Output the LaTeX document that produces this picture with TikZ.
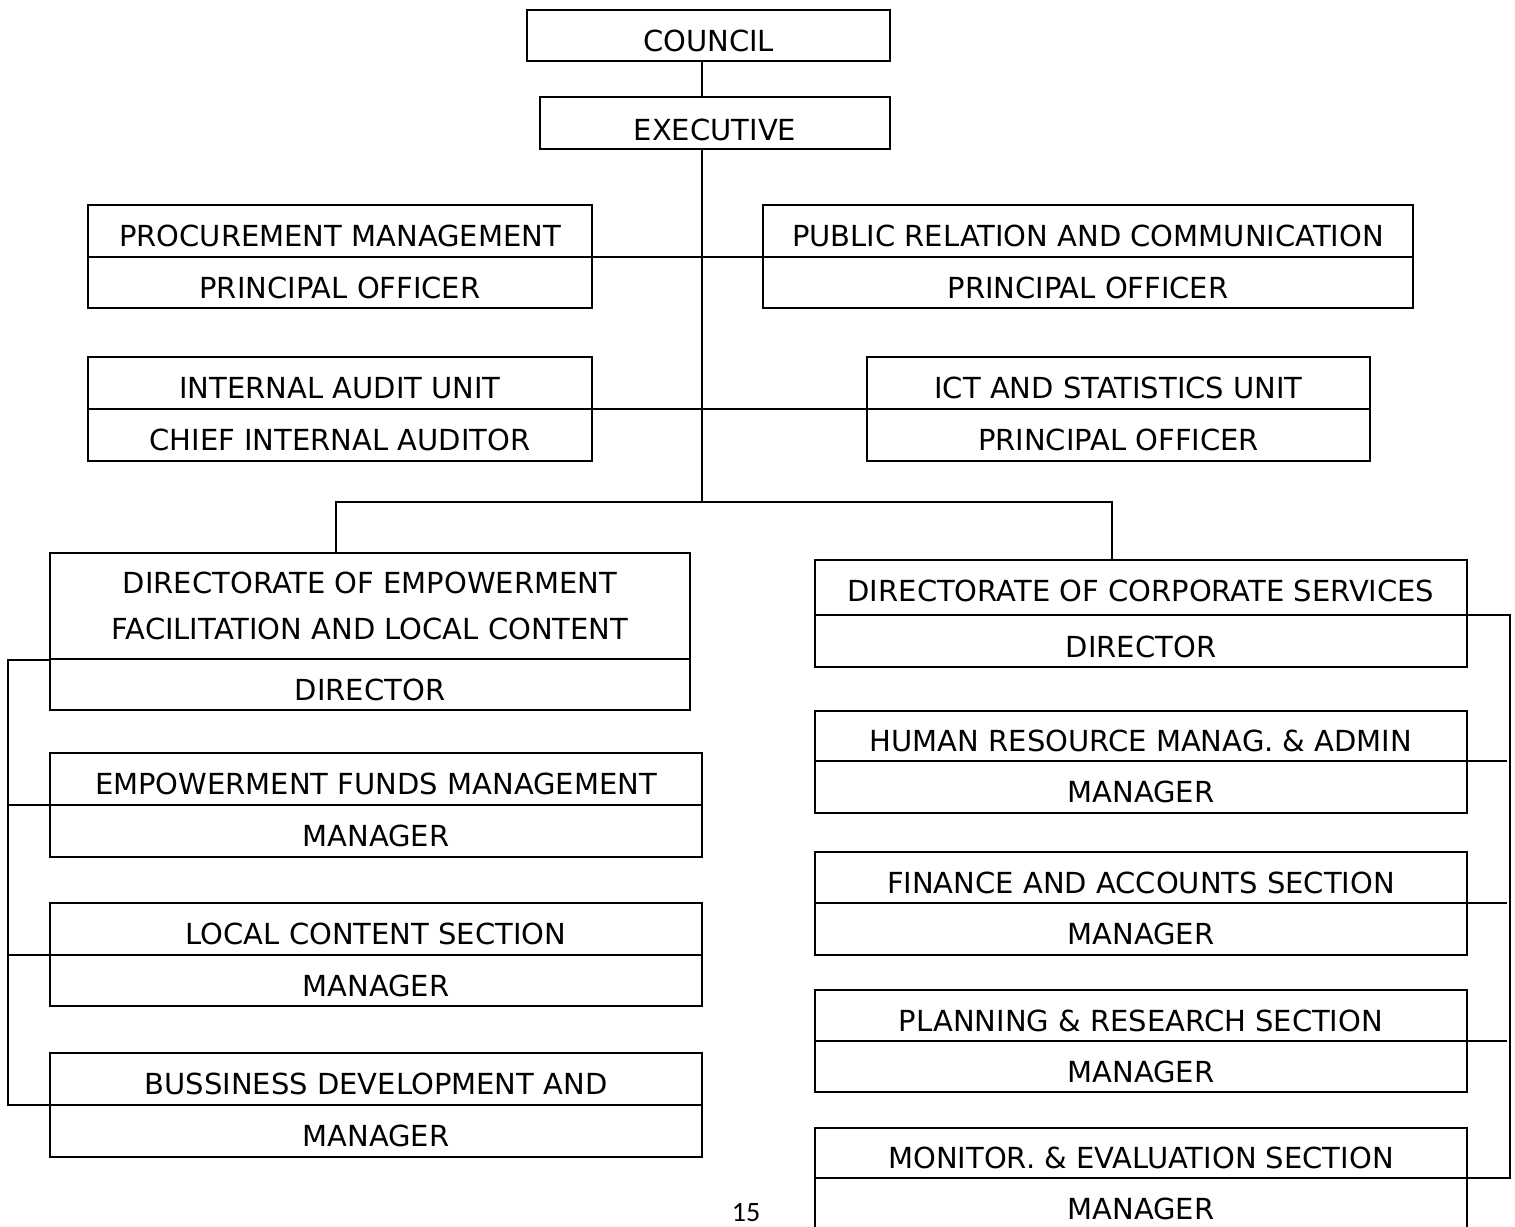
\documentclass[tikz,border=0pt]{standalone}
\usepackage{fontspec}
\setmainfont{DejaVu Sans}
\newfontfamily\pagefont{Carlito}
\begin{document}
\begin{tikzpicture}[x=1pt,y=-1pt,
  every node/.style={font=\fontsize{29}{46}\selectfont},
  part/.style={draw, line width=1.5pt, inner sep=0pt, outer sep=0pt, text height=31pt, text depth=0pt},
  conn/.style={line width=1.5pt}]
\useasboundingbox (0,0) rectangle (1515,1226);
% top
\node[part, minimum width=363pt, minimum height=51pt] (council) at (708.5,35.5) {COUNCIL};
\node[part, minimum width=350pt, minimum height=52pt, text height=35pt] (exec) at (715,123) {EXECUTIVE};
% staff units
\node[part, minimum width=504pt, minimum height=52pt] (proc1) at (340,231) {PROCUREMENT MANAGEMENT};
\node[part, minimum width=504pt, minimum height=51pt] (proc2) at (340,282.5) {PRINCIPAL OFFICER};
\node[part, minimum width=650pt, minimum height=52pt] (pr1) at (1088,231) {PUBLIC RELATION AND COMMUNICATION};
\node[part, minimum width=650pt, minimum height=51pt] (pr2) at (1088,282.5) {PRINCIPAL OFFICER};
\node[part, minimum width=504pt, minimum height=52pt] (ia1) at (340,383) {INTERNAL AUDIT UNIT};
\node[part, minimum width=504pt, minimum height=52pt] (ia2) at (340,435) {CHIEF INTERNAL AUDITOR};
\node[part, minimum width=503pt, minimum height=52pt] (ict1) at (1118.5,383) {ICT AND STATISTICS UNIT};
\node[part, minimum width=503pt, minimum height=52pt] (ict2) at (1118.5,435) {PRINCIPAL OFFICER};
% left directorate
\node[draw, line width=1.5pt, inner sep=0pt, align=center, minimum width=640pt, minimum height=106pt] (dirE1) at (370,606) {DIRECTORATE OF EMPOWERMENT\\FACILITATION AND LOCAL CONTENT};
\node[part, minimum width=640pt, minimum height=51pt] (dirE2) at (370,684.5) {DIRECTOR};
\node[part, minimum width=652pt, minimum height=52pt] (ef1) at (376,779) {EMPOWERMENT FUNDS MANAGEMENT};
\node[part, minimum width=652pt, minimum height=52pt] (ef2) at (376,831) {MANAGER};
\node[part, minimum width=652pt, minimum height=52pt] (lc1) at (376,929) {LOCAL CONTENT SECTION};
\node[part, minimum width=652pt, minimum height=51pt] (lc2) at (376,980.5) {MANAGER};
\node[part, minimum width=652pt, minimum height=52pt] (bd1) at (376,1079) {BUSSINESS DEVELOPMENT AND};
\node[part, minimum width=652pt, minimum height=52pt] (bd2) at (376,1131) {MANAGER};
% right directorate
\node[part, minimum width=652pt, minimum height=55pt, text height=27pt] (dirC1) at (1141,587.5) {DIRECTORATE OF CORPORATE SERVICES};
\node[part, minimum width=652pt, minimum height=52pt, text height=33pt] (dirC2) at (1141,641) {DIRECTOR};
\node[part, minimum width=652pt, minimum height=50pt] (hr1) at (1141,736) {HUMAN RESOURCE MANAG. \& ADMIN};
\node[part, minimum width=652pt, minimum height=52pt] (hr2) at (1141,787) {MANAGER};
\node[part, minimum width=652pt, minimum height=51pt] (fin1) at (1141,877.5) {FINANCE AND ACCOUNTS SECTION};
\node[part, minimum width=652pt, minimum height=52pt] (fin2) at (1141,929) {MANAGER};
\node[part, minimum width=652pt, minimum height=51pt] (pl1) at (1141,1015.5) {PLANNING \& RESEARCH SECTION};
\node[part, minimum width=652pt, minimum height=51pt] (pl2) at (1141,1066.5) {MANAGER};
\node[part, minimum width=652pt, minimum height=50pt] (mon1) at (1141,1153) {MONITOR. \& EVALUATION SECTION};
\node[part, minimum width=652pt, minimum height=52pt] (mon2) at (1141,1204) {MANAGER};
% page number
\node[font=\pagefont\fontsize{28}{32}\selectfont, anchor=base, inner sep=0pt] (pg) at (746,1221) {15};
% junction coordinates
\coordinate (spine) at (702,502);
\coordinate (jl) at (336,502);
\coordinate (jr) at (1112,502);
\coordinate (lb) at (8,0);
\coordinate (rb) at (1510,0);
% connectors
\draw[conn] (council.south -| spine) -- (exec.north -| spine);
\draw[conn] (exec.south -| spine) -- (spine);
\draw[conn] (proc1.south east) -- (pr1.south west);
\draw[conn] (ia1.south east) -- (ict1.south west);
\draw[conn] (dirE1.north -| jl) -- (jl) -- (jr) -- (dirC1.north -| jr);
% left bracket
\draw[conn] (dirE1.south west) -- (dirE1.south west -| lb) -- (bd1.south west -| lb) -- (bd1.south west);
\draw[conn] (ef1.south west -| lb) -- (ef1.south west);
\draw[conn] (lc1.south west -| lb) -- (lc1.south west);
% right bracket
\draw[conn] (dirC1.south east) -- (dirC1.south east -| rb) -- (mon1.south east -| rb) -- (mon1.south east);
\draw[conn] (hr1.south east) -- ([xshift=-3pt]hr1.south east -| rb);
\draw[conn] (fin1.south east) -- ([xshift=-3pt]fin1.south east -| rb);
\draw[conn] (pl1.south east) -- ([xshift=-3pt]pl1.south east -| rb);
\end{tikzpicture}
\end{document}
